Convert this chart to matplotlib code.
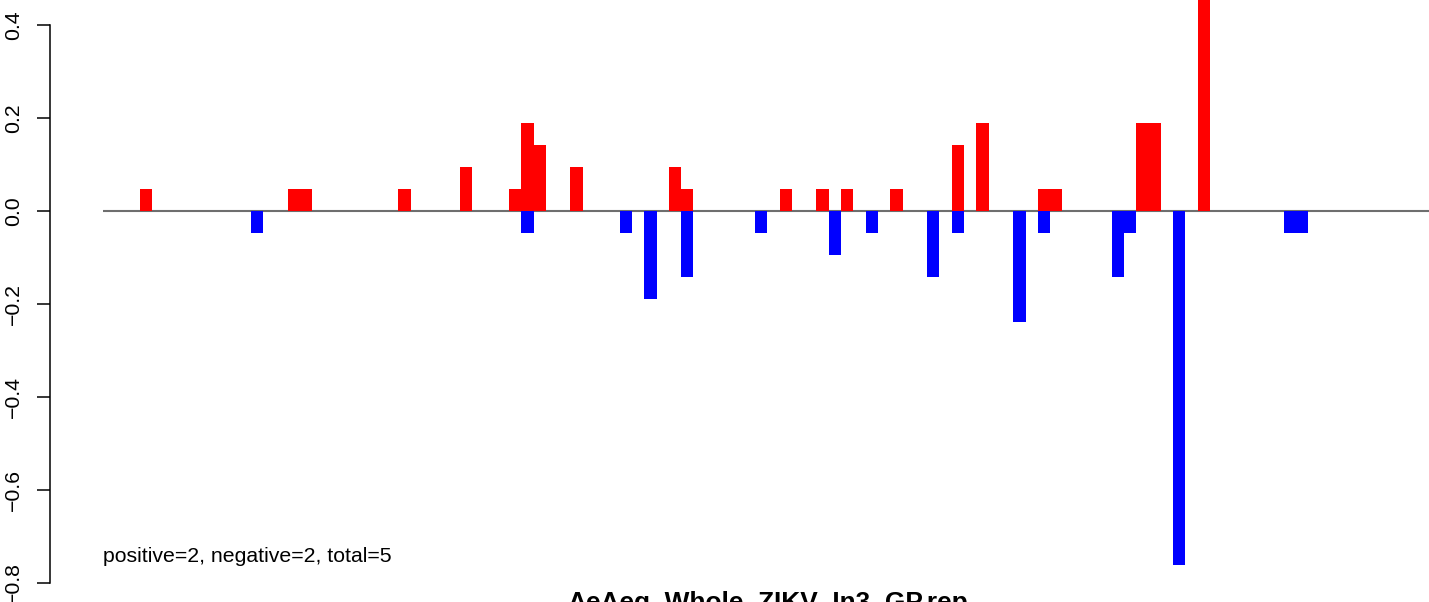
import numpy as np
import matplotlib
matplotlib.use("Agg")
import matplotlib.pyplot as plt

plt.rcParams['font.family'] = ['Liberation Sans', 'DejaVu Sans']

TITLE = "AeAeg_Whole_ZIKV_In3_GP.rep"
NOTE = "positive=2, negative=2, total=5"

# bin index along the x axis and bar height
pos_bins = [3, 15, 16, 24, 29, 33, 34, 35, 38, 46, 47, 55, 58, 60, 64, 69, 71,
            76, 77, 84, 85, 89]
pos_vals = [0.048, 0.048, 0.048, 0.048, 0.095, 0.048, 0.190, 0.143, 0.095,
            0.095, 0.048, 0.048, 0.048, 0.048, 0.048, 0.143, 0.190, 0.048,
            0.048, 0.190, 0.190, 0.476]
neg_bins = [12, 34, 42, 44, 47, 53, 59, 62, 67, 69, 74, 76, 82, 83, 87, 96, 97]
neg_vals = [-0.048, -0.048, -0.048, -0.190, -0.143, -0.048, -0.095, -0.048,
            -0.143, -0.048, -0.238, -0.048, -0.143, -0.048, -0.762, -0.048,
            -0.048]
yticks = [-0.8, -0.6, -0.4, -0.2, 0.0, 0.2, 0.4]

W, H = 1429, 602
fig = plt.figure(figsize=(W / 100, H / 100), dpi=100)
ax = fig.add_axes([50 / W, 0, 1 - 50 / W, 1])

px = 12.3  # pixels per bin
ax.set_xlim((50 - 103) / px, (W - 103) / px)
ax.set_ylim(-(602 - 211) / 465, 211 / 465)

ax.hlines(0, 0, 200, color='#6e6e6e', lw=1.5, zorder=1)
ax.bar(pos_bins, pos_vals, width=1, align='edge', color='#ff0000', lw=0, zorder=2)
ax.bar(neg_bins, neg_vals, width=1, align='edge', color='#0000ff', lw=0, zorder=2)

for s in ['top', 'right', 'bottom']:
    ax.spines[s].set_visible(False)
ax.spines['left'].set_bounds(-0.8, 0.4)
ax.spines['left'].set_linewidth(1.1)
ax.set_xticks([])
ax.set_yticks(yticks)
ax.set_yticklabels([f"{v:.1f}".replace("-", "\u2212") for v in yticks],
                   rotation=90, va='center', fontsize=15.3)
ax.tick_params(axis='y', length=9.4, width=1.1, pad=10)

ax.text(0, -0.755, NOTE, fontsize=15.3, ha='left', va='baseline')
fig.text(768 / W, 1 - 610 / H, TITLE, fontsize=18.9, fontweight='bold',
         ha='center', va='baseline')

fig.savefig("out.png", dpi=100)
